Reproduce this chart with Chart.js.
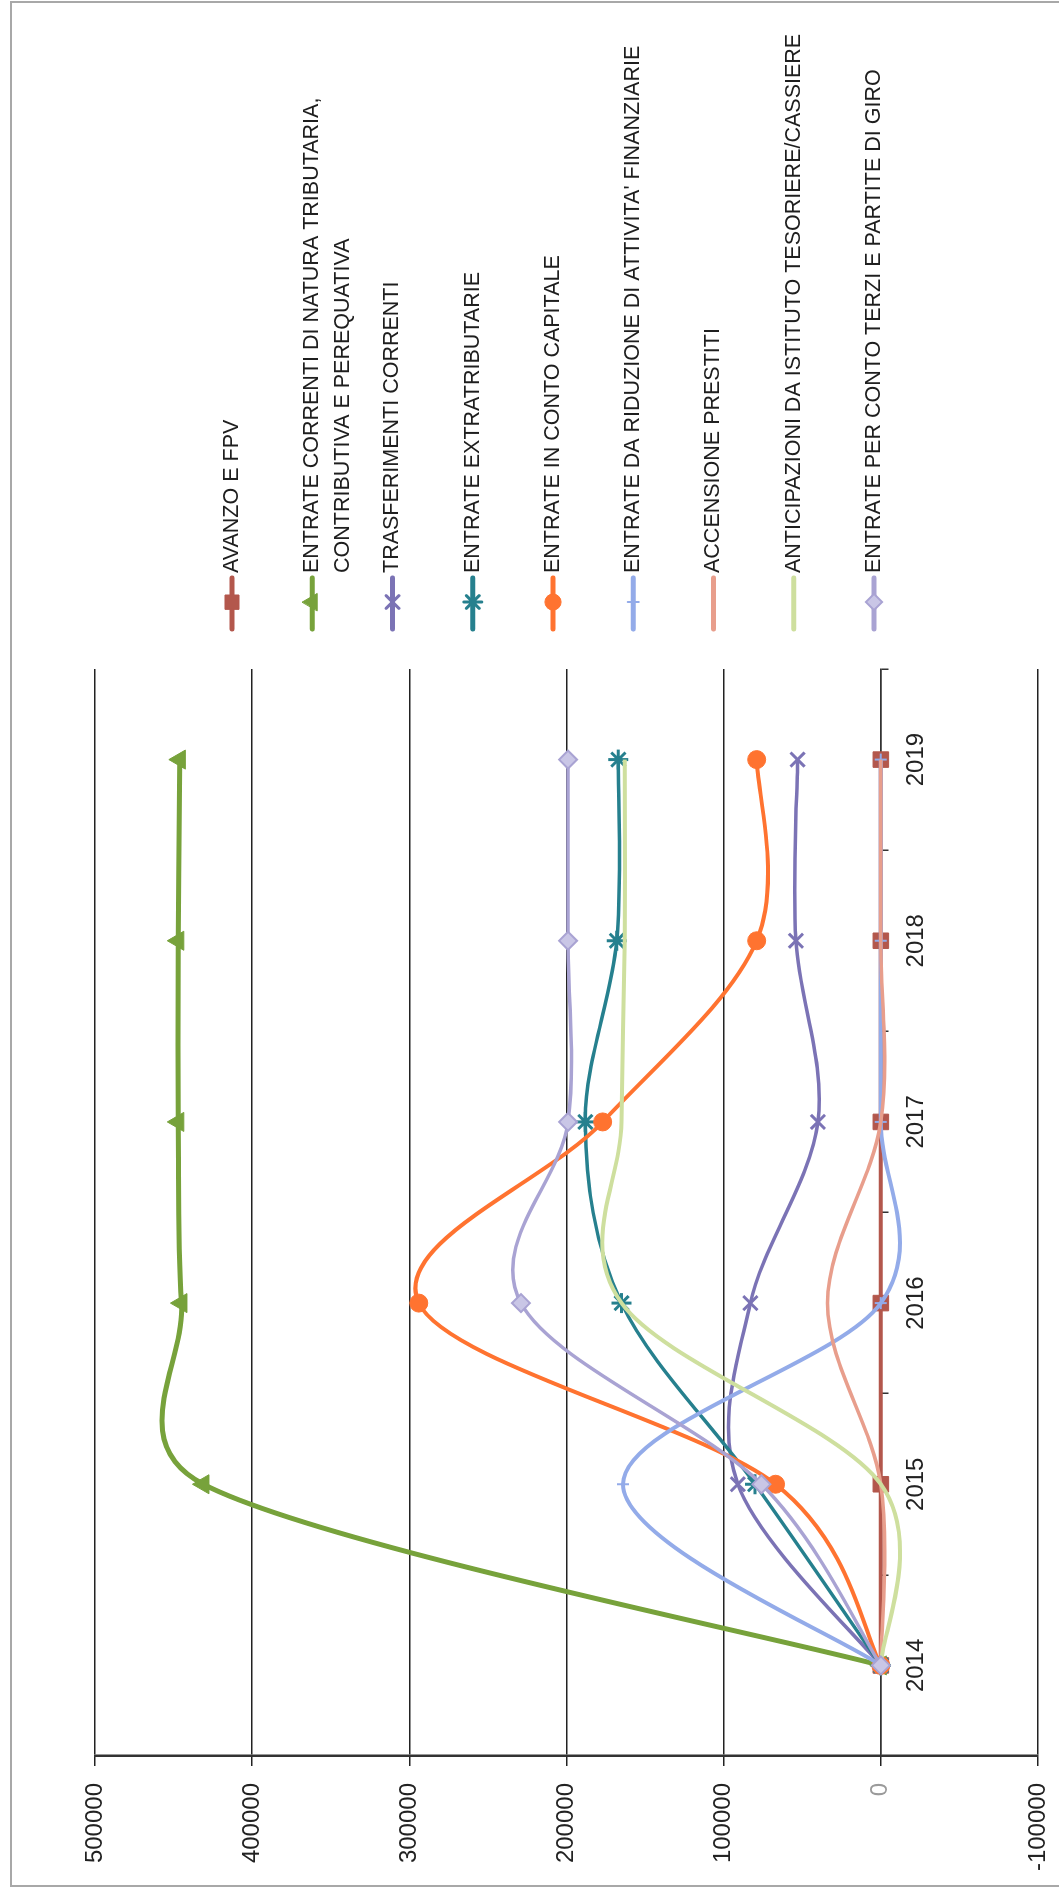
<!DOCTYPE html>
<html><head><meta charset="utf-8">
<script src="https://cdn.jsdelivr.net/npm/chart.js@4.4.1/dist/chart.umd.min.js"></script>
<style>
html,body{margin:0;padding:0;background:#fff;}
#page{position:relative;width:1059px;height:1891px;overflow:hidden;background:#fff;}
#land{position:absolute;left:0;top:0;width:1891px;height:1059px;transform-origin:0 0;transform:translateY(1891px) rotate(-90deg);}
canvas{display:block;}
</style></head><body>
<div id="page"><div id="land"><canvas id="c" width="1891" height="1059"></canvas></div></div>
<script>
// ---- data ----
const categories = ['2014', '2015', '2016', '2017', '2018', '2019'];
const seriesNames = [
  'AVANZO E FPV',
  ['ENTRATE CORRENTI DI NATURA TRIBUTARIA,', 'CONTRIBUTIVA E PEREQUATIVA'],
  'TRASFERIMENTI CORRENTI',
  'ENTRATE EXTRATRIBUTARIE',
  'ENTRATE IN CONTO CAPITALE',
  "ENTRATE DA RIDUZIONE DI ATTIVITA' FINANZIARIE",
  'ACCENSIONE PRESTITI',
  'ANTICIPAZIONI DA ISTITUTO TESORIERE/CASSIERE',
  'ENTRATE PER CONTO TERZI E PARTITE DI GIRO'
];
const avanzoFpv            = [0, 0, 0, 0, 0, 0];
const entrateCorrenti      = [0, 431000, 445000, 447000, 447000, 446000];
const trasferimenti        = [0, 91000, 83000, 40000, 54000, 53000];
const extratributarie      = [0, 80000, 165000, 188000, 168000, 167000];
const contoCapitale        = [0, 67000, 294000, 177000, 79000, 79000];
const riduzioneAttivita    = [0, 164000, 0, 0, 0, 0];
const accensionePrestiti   = [0, 0, 34000, 0, 0, 0];
const anticipazioni        = [0, 0, 165000, 165000, 163000, 163000];
const contoTerzi           = [0, 76000, 229000, 199000, 199000, 199000];
const valueTicks           = [-100000, 0, 100000, 200000, 300000, 400000, 500000];

// ---- styles ----
const styles = [
  {color:'#B3574C', fill:'#B3574C', point:'rect',     r:11, bw:1, lw:4},
  {color:'#77A23B', fill:'#77A23B', point:'triangle', r:11, bw:1, lw:5},
  {color:'#7B73B5', fill:'#7B73B5', point:'crossRot', r:10, bw:3, lw:3.5},
  {color:'#26808E', fill:'#26808E', point:'star',     r:10, bw:3, lw:3.5},
  {color:'#FF7330', fill:'#FF7330', point:'circle',   r:9,  bw:1, lw:4},
  {color:'#93ABE9', fill:'#93ABE9', point:'cross',    r:6,  bw:2, lw:4},
  {color:'#E89E8C', fill:'#E89E8C', point:false,      r:0,  bw:0, lw:3.5},
  {color:'#CEDF9E', fill:'#CEDF9E', point:false,      r:0,  bw:0, lw:4},
  {color:'#A9A3D3', fill:'#C9C6E6', point:'rectRot',  r:9,  bw:2, lw:3.5}
];
const seriesValues = [avanzoFpv, entrateCorrenti, trasferimenti, extratributarie,
  contoCapitale, riduzioneAttivita, accensionePrestiti, anticipazioni, contoTerzi];

const FONT = '"Liberation Sans", Arial, sans-serif';

const datasets = seriesValues.map((vals, i) => {
  const s = styles[i];
  return {
    label: Array.isArray(seriesNames[i]) ? seriesNames[i].join(' ') : seriesNames[i],
    data: vals,
    borderColor: s.color,
    backgroundColor: s.fill,
    borderWidth: s.lw,
    pointStyle: s.point || 'circle',
    pointRadius: s.r,
    pointBorderWidth: s.bw,
    pointBorderColor: s.color,
    pointBackgroundColor: s.fill,
    tension: 0.4,
    fill: false,
    order: -i
  };
});

// Excel-like smoothing on the library's pixel positions:
// arm = (next - prev)/6, limited to half of the adjacent segment length
const excelSmooth = {
  id: 'excelSmooth',
  beforeDatasetDraw(chart, args) {
    const meta = args.meta;
    const line = meta.dataset;
    if (!line || !line.updateControlPoints) return;
    line.updateControlPoints(chart.chartArea, meta.iScale ? meta.iScale.axis : 'x');
    const pts = meta.data;
    const n = pts.length;
    for (let i = 0; i < n; i++) {
      const p = pts[i];
      const prev = pts[Math.max(i - 1, 0)];
      const next = pts[Math.min(i + 1, n - 1)];
      const dx = (next.x - prev.x) / 6, dy = (next.y - prev.y) / 6;
      const arm = Math.hypot(dx, dy) || 1;
      const segPrev = Math.hypot(p.x - prev.x, p.y - prev.y);
      const segNext = Math.hypot(next.x - p.x, next.y - p.y);
      const fPrev = Math.min(1, (segPrev * 0.5) / arm);
      const fNext = Math.min(1, (segNext * 0.5) / arm);
      p.cp1x = p.x - dx * fPrev; p.cp1y = p.y - dy * fPrev;
      p.cp2x = p.x + dx * fNext; p.cp2y = p.y + dy * fNext;
    }
    line._path = undefined;
  }
};

const LEG = {lineX0:1262, lineX1:1313, markX:1289, textX:1318, firstY:232, step:80.25, lineGap:31};

const customLegend = {
  id: 'customLegend',
  beforeDraw(chart) {
    const ctx = chart.ctx;
    ctx.save();
    ctx.fillStyle = '#fff';
    ctx.fillRect(0, 0, chart.width, chart.height);
    ctx.strokeStyle = '#a8a8a8';
    ctx.lineWidth = 2;
    ctx.strokeRect(5, 11, 1884, 1070);
    ctx.restore();
  },
  afterDraw(chart) {
    const ctx = chart.ctx;
    chart.data.datasets.forEach((ds, i) => {
      const s = styles[i];
      const y = LEG.firstY + i * LEG.step;
      ctx.save();
      ctx.strokeStyle = s.color;
      ctx.lineWidth = 5;
      ctx.lineCap = 'round';
      ctx.beginPath();
      ctx.moveTo(LEG.lineX0, y);
      ctx.lineTo(LEG.lineX1, y);
      ctx.stroke();
      if (s.point && Chart.helpers && Chart.helpers.drawPoint) {
        ctx.fillStyle = s.fill;
        ctx.strokeStyle = s.color;
        ctx.lineWidth = s.bw;
        Chart.helpers.drawPoint(ctx, {pointStyle: s.point, rotation: 0, radius: s.r * 0.9, borderWidth: s.bw}, LEG.markX, y);
      }
      ctx.fillStyle = '#1e1e1e';
      ctx.font = '21.5px ' + FONT;
      ctx.textBaseline = 'middle';
      ctx.textAlign = 'left';
      const lines = Array.isArray(seriesNames[i]) ? seriesNames[i] : [seriesNames[i]];
      lines.forEach((t, k) => ctx.fillText(t, LEG.textX, y + k * LEG.lineGap));
      ctx.restore();
    });
  }
};

new Chart(document.getElementById('c'), {
  type: 'line',
  data: {labels: categories, datasets},
  options: {
    responsive: false,
    animation: false,
    devicePixelRatio: 1,
    events: [],
    layout: {padding: {left: 0, top: 95, right: 669, bottom: 21}},
    plugins: {legend: {display: false}, tooltip: {enabled: false}},
    scales: {
      x: {
        type: 'category',
        position: {y: 0},
        offset: true,
        afterFit(scale) { scale.height = 0; scale.paddingLeft = 0; scale.paddingRight = 0; },
        grid: {offset: true, drawOnChartArea: false, drawTicks: true, tickLength: 7, color: '#333', lineWidth: 1.5},
        border: {display: true, color: '#333', width: 1.5},
        ticks: {color: '#222', font: {family: FONT, size: 24}, padding: 14, maxRotation: 0, autoSkip: false}
      },
      y: {
        min: valueTicks[0],
        max: valueTicks[valueTicks.length - 1],
        afterFit(scale) { scale.width = 135; scale.paddingTop = 0; scale.paddingBottom = 0; },
        afterBuildTicks(scale) { scale.ticks = valueTicks.map(v => ({value: v})); },
        grid: {color: '#222', lineWidth: 1.5, tickLength: 10, drawTicks: true},
        border: {display: true, color: '#333', width: 2.5},
        ticks: {
          color: (c) => c.tick && c.tick.value === 0 ? '#9a9a9a' : '#222',
          font: {family: FONT, size: 24},
          padding: 17,
          callback: (v) => String(v)
        }
      }
    }
  },
  plugins: [excelSmooth, customLegend]
});
</script>
</body></html>
